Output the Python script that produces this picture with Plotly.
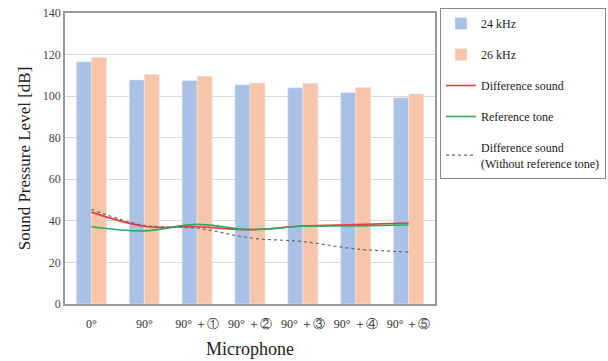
import plotly.graph_objects as go

categories = ["0°", "90°", "90° ＋①", "90° ＋②", "90° ＋③", "90° ＋④", "90° ＋⑤"]
khz24 = [116.5, 107.8, 107.5, 105.5, 104.0, 101.8, 99.2]
khz26 = [118.7, 110.5, 109.6, 106.3, 106.2, 104.2, 101.0]
diff_sound = [44.2, 37.4, 37.2, 35.8, 37.5, 38.2, 39.0]
ref_tone = [37.2, 35.2, 38.3, 35.8, 37.4, 37.6, 38.0]
diff_no_ref = [45.5, 37.8, 36.5, 31.8, 30.0, 26.5, 25.0]
y_ticks = [0, 20, 40, 60, 80, 100, 120, 140]

x = list(range(len(categories)))
font = "Liberation Serif, Times New Roman, serif"

fig = go.Figure()
fig.add_trace(go.Bar(x=x, y=khz24, name="24 kHz", marker_color="#AAC1E5",
                     legendgroup="a"))
fig.add_trace(go.Bar(x=x, y=khz26, name="26 kHz", marker_color="#F9C5A8",
                     legendgroup="b"))
fig.add_trace(go.Scatter(x=x, y=diff_sound, name="Difference sound", mode="lines",
                         line=dict(color="#EE3B3B", width=1.6, shape="spline"),
                         legendgroup="c"))
fig.add_trace(go.Scatter(x=x, y=ref_tone, name="Reference tone", mode="lines",
                         line=dict(color="#2EAA5C", width=1.6, shape="spline"),
                         legendgroup="d"))
fig.add_trace(go.Scatter(x=x, y=diff_no_ref,
                         name="Difference sound<br>(Without reference tone)",
                         mode="lines",
                         line=dict(color="#666666", width=1.2, dash="3px,3px", shape="spline"),
                         legendgroup="e"))

W, H = 608, 361
L, R, T, B = 65, 173, 13, 57
pw = W - L - R
ph = H - T - B

fig.update_layout(
    width=W, height=H,
    margin=dict(l=L, r=R, t=T, b=B, autoexpand=False),
    paper_bgcolor="white", plot_bgcolor="white",
    font=dict(family=font, color="#333333", size=12),
    barmode="group", bargap=0.43, bargroupgap=0,
    showlegend=True,
    legend=dict(x=(440 - L) / pw, y=(ph + T - 8) / ph,
                xanchor="left", yanchor="top",
                bordercolor="#888888", borderwidth=1,
                font=dict(family=font, size=12, color="#222222"),
                tracegroupgap=12, traceorder="grouped",
                itemwidth=30),
    xaxis=dict(tickmode="array", tickvals=x, ticktext=categories,
               range=[-0.5, 6.5], showgrid=False,
               showline=True, linecolor="#999999", linewidth=1.5, mirror=True,
               ticks="", tickfont=dict(size=12, color="#333333"),
               ticklabelstandoff=8, ticklabeloverflow="allow",
               title=dict(text="Microphone", font=dict(size=18, color="#222222"),
                          standoff=12)),
    yaxis=dict(range=[0, 140], tickvals=y_ticks, showgrid=True,
               gridcolor="#D9D9D9", gridwidth=1,
               showline=True, linecolor="#999999", linewidth=1.5, mirror=True,
               ticks="", tickfont=dict(size=12, color="#444444"),
               ticklabeloverflow="allow",
               zeroline=False,
               title=dict(text="Sound Pressure Level [dB]",
                          font=dict(size=17, color="#222222"), standoff=8)),
)

fig.write_html("out.html", config={"displayModeBar": False},
               post_script="document.body.style.margin='0';")
